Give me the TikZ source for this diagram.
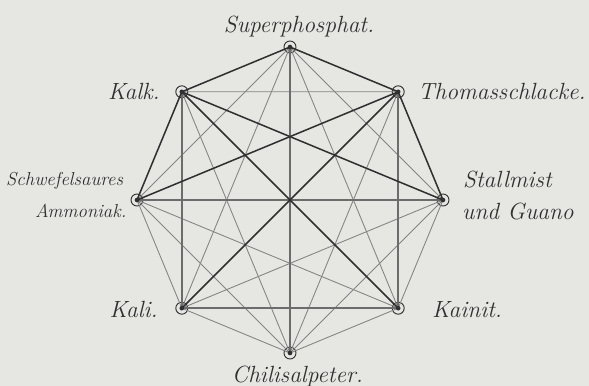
\documentclass[tikz,border=0pt]{standalone}
\usetikzlibrary{positioning}
\definecolor{paper}{HTML}{E6E6E3}
\definecolor{ink}{HTML}{303030}
\definecolor{lead}{HTML}{6C6C6C}
\definecolor{faint}{HTML}{848484}
\newcommand{\hand}{\fontsize{20}{24}\selectfont\itshape}
\newcommand{\handsm}{\fontsize{16}{19}\selectfont\itshape}
\tikzset{
  pt/.style ={circle, draw=ink, line width=.8pt, minimum size=3.6mm, inner sep=0pt},
  lbl/.style={font=\hand, color=ink, inner sep=0pt},
  ed/.style ={draw=ink,   line width=1.3pt},
  edm/.style={draw=lead,  line width=1.2pt},
  eds/.style={draw=faint, line width=.75pt},
}
\begin{document}
\begin{tikzpicture}
    \fill[paper] (-8.70,-5.58) rectangle (8.97,6.00);
    \useasboundingbox (-8.70,-5.58) rectangle (8.97,6.00);

    % the eight manures round the octagon
    \node[pt] (sup)   at (90:4.59)  {};
    \node[pt] (thom)  at (45:4.59)  {};
    \node[pt] (stall) at (0:4.59)   {};
    \node[pt] (kain)  at (-45:4.59) {};
    \node[pt] (chili) at (-90:4.59) {};
    \node[pt] (kali)  at (-135:4.59) {};
    \node[pt] (schw)  at (180:4.59) {};
    \node[pt] (kalk)  at (135:4.59) {};

    % thin lines
    \draw[eds] (sup.center) -- (stall.center) (sup.center) -- (kain.center)
               (sup.center) -- (kali.center)  (sup.center) -- (schw.center);
    \draw[eds] (kalk.center) -- (thom.center) (kalk.center) -- (chili.center)
               (thom.center) -- (chili.center);
    \draw[eds] (stall.center) -- (kain.center) (stall.center) -- (chili.center)
               (stall.center) -- (kali.center);
    \draw[eds] (kain.center) -- (chili.center) (kain.center) -- (schw.center)
               (chili.center) -- (kali.center) (chili.center) -- (schw.center)
               (kali.center) -- (schw.center);
    % grey lines
    \draw[edm] (sup.center) -- (chili.center);
    \draw[edm] (schw.center) -- (stall.center);
    \draw[edm] (kalk.center) -- (kali.center);
    \draw[edm] (thom.center) -- (kain.center);
    \draw[edm] (kali.center) -- (kain.center);
    % dark lines
    \draw[ed] (kalk.center) -- (sup.center) -- (thom.center);
    \draw[ed] (schw.center) -- (kalk.center) -- (stall.center);
    \draw[ed] (stall.center) -- (thom.center) -- (schw.center);
    \draw[ed] (kalk.center) -- (kain.center);
    \draw[ed] (thom.center) -- (kali.center);

    \foreach \n in {sup,thom,stall,kain,chili,kali,schw,kalk}
      \fill[ink] (\n) circle (.07);

    \node[lbl,anchor=base]      (lsup)   at (0.27,5.01)   {Superphosphat.};
    \node[lbl,anchor=base west] (lthom)  at (3.84,3.00)   {Thomasschlacke.};
    \node[lbl,anchor=base east] (lkalk)  at (-3.90,3.00)  {Kalk.};
    \node[lbl,font=\handsm,anchor=base east] (lschw) at (-5.00,0.42)  {Schwefelsaures};
    \node[lbl,font=\handsm,anchor=base east] (lamm)  at (-4.90,-0.54) {Ammoniak.};
    \node[lbl,anchor=base west] (lstall) at (5.19,0.36)   {Stallmist};
    \node[lbl,anchor=base west] (lguano) at (5.16,-0.60)  {und Guano};
    \node[lbl,anchor=base east] (lkali)  at (-3.96,-3.54) {Kali.};
    \node[lbl,anchor=base west] (lkain)  at (4.26,-3.54)  {Kainit.};
    \node[lbl,anchor=base]      (lchili) at (0.22,-5.46)  {Chilisalpeter.};
\end{tikzpicture}
\end{document}
